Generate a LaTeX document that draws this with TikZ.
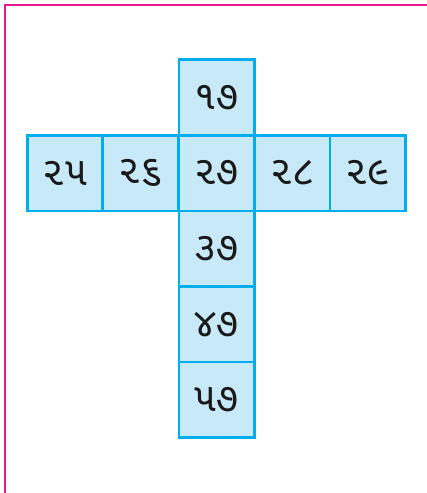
\documentclass[tikz,border=0pt]{standalone}
\usepackage{fontspec}
\newfontfamily\gujfont[Script=Gujarati]{Noto Sans Gujarati UI}
\definecolor{framepink}{HTML}{EC168C}
\definecolor{cellblue}{HTML}{00AEEF}
\definecolor{cellfill}{HTML}{C8E9F8}
\tikzset{
  cell/.style={draw=cellblue, fill=cellfill, line width=2.6pt, minimum width=75.6pt, minimum height=75.6pt, inner sep=0pt, font=\gujfont\fontsize{40}{42}\selectfont, text=black!90},
}
\begin{document}
\begin{tikzpicture}[x=1pt,y=-1pt]
\useasboundingbox (0,0) rectangle (427,493);
\draw[framepink, line width=2.4pt] (5,493) -- (5,5) -- (427,5);
\node[cell] (c17) at (216.8,97.4) {૧૭};
\node[cell] (c25) at (65.0,173.0) {૨૫};
\node[cell] (c26) at (140.4,173.0) {૨૬};
\node[cell] (c27) at (216.8,173.0) {૨૭};
\node[cell] (c28) at (292.2,173.0) {૨૮};
\node[cell] (c29) at (367.6,173.0) {૨૯};
\node[cell] (c37) at (216.8,248.6) {૩૭};
\node[cell] (c47) at (216.8,324.2) {૪૭};
\node[cell] (c57) at (216.8,399.8) {૫૭};
\end{tikzpicture}
\end{document}
